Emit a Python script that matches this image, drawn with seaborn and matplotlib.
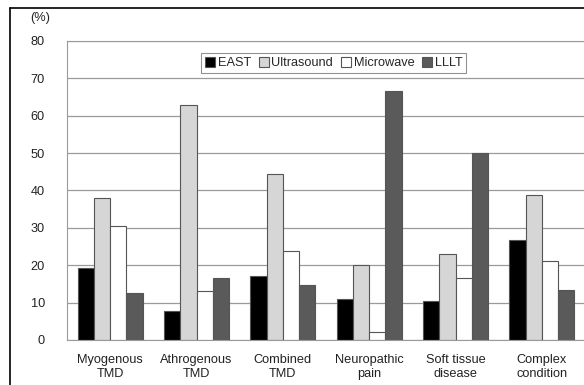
import numpy as np
import pandas as pd
import matplotlib
matplotlib.use('Agg')
import matplotlib.pyplot as plt
from matplotlib.lines import Line2D
import seaborn as sns

categories = ['Myogenous\nTMD', 'Athrogenous\nTMD', 'Combined\nTMD',
              'Neuropathic\npain', 'Soft tissue\ndisease', 'Complex\ncondition']
east = [19.2, 7.7, 17.1, 11.1, 10.4, 26.7]
ultrasound = [37.9, 62.8, 44.4, 20.0, 22.9, 38.8]
microwave = [30.5, 13.2, 23.9, 2.2, 16.7, 21.2]
lllt = [12.5, 16.5, 14.7, 66.7, 50.0, 13.3]
series = ['EAST', 'Ultrasound', 'Microwave', 'LLLT']
colors = ['#000000', '#d6d6d6', '#ffffff', '#5a5a5a']
yticks = [0, 10, 20, 30, 40, 50, 60, 70, 80]

rows = []
for name, vals in zip(series, [east, ultrasound, microwave, lllt]):
    for cat, v in zip(categories, vals):
        rows.append({'category': cat, 'method': name, 'value': v})
df = pd.DataFrame(rows)

sns.set_style('white')
plt.rcParams['font.family'] = ['Liberation Sans', 'DejaVu Sans']
fs = 9.2

fig = plt.figure(figsize=(5.84, 3.85), dpi=100)
ax = fig.add_axes([67 / 584, 1 - 340 / 385, 518 / 584, 299 / 385])

sns.barplot(data=df, x='category', y='value', hue='method', hue_order=series,
            order=categories, palette=colors, width=0.75, edgecolor='#555555',
            linewidth=0.8, ax=ax, legend=True)

ax.set_ylim(0, 80)
ax.set_yticks(yticks)
ax.yaxis.grid(True, color='#9a9a9a', linewidth=0.9)
ax.set_axisbelow(True)
ax.set_xlabel('')
ax.set_ylabel('')
for s in ['left', 'bottom', 'top']:
    ax.spines[s].set_color('#9a9a9a')
ax.spines['right'].set_visible(False)
ax.tick_params(axis='both', labelsize=fs, colors='#222222', length=0, pad=10)
ax.tick_params(axis='y', pad=16)
ax.set_xticks(np.arange(0.5, len(categories) - 0.5), minor=True)
ax.tick_params(axis='x', which='minor', direction='in', length=3, color='#9a9a9a')

leg = ax.legend(loc='upper center', bbox_to_anchor=(0.515, 0.96), ncol=4,
                fontsize=fs, frameon=True, fancybox=False, edgecolor='#777777',
                handlelength=0.8, handleheight=0.8, handletextpad=0.2,
                columnspacing=0.6, borderpad=0.3, borderaxespad=0)
leg.get_frame().set_linewidth(0.8)

fig.text(30 / 584, 1 - 18 / 385, '(%)', fontsize=fs, va='center', ha='left', color='#222222')

fig.add_artist(Line2D([10 / 584, 10 / 584], [0, 1 - 8 / 385], color='black', lw=1.2,
                      transform=fig.transFigure))
fig.add_artist(Line2D([10 / 584, 1], [1 - 8 / 385, 1 - 8 / 385], color='black', lw=1.2,
                      transform=fig.transFigure))

fig.savefig('out.png', dpi=100)
